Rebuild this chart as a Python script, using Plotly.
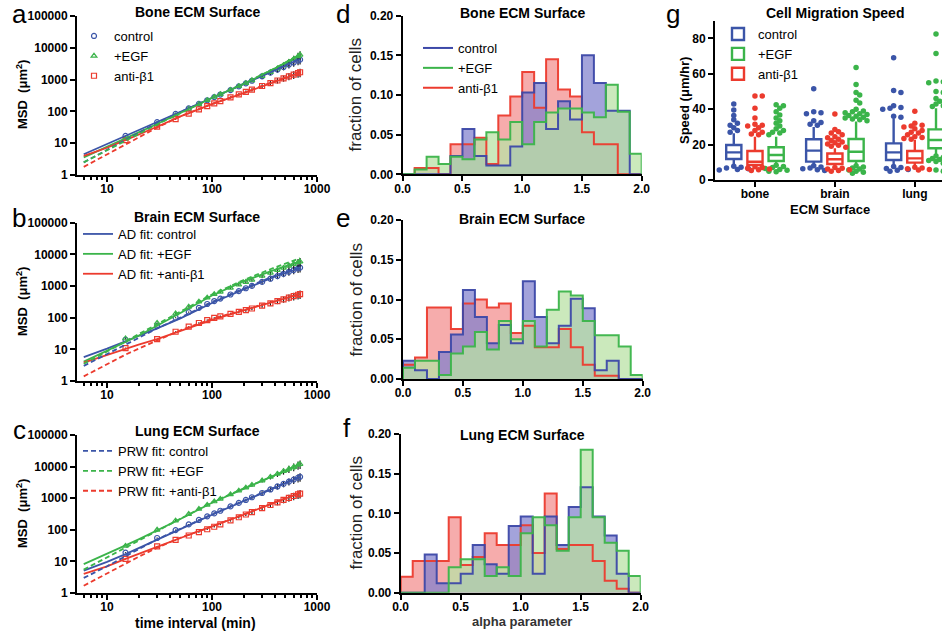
import plotly.graph_objects as go

W, H = 947, 631
F = "Liberation Sans"

BLUE = "#3B55A8"
GREEN = "#3BB44A"
RED = "#EC3B2E"

# ---------------- MSD data (panels a-c) ----------------
lag_t = [15, 30, 45, 60, 75, 90, 105, 120, 150, 180, 210, 240, 300, 360, 420, 480, 540, 600, 660, 690]
fit_t = [6, 8, 10, 15, 20, 30, 50, 100, 200, 400, 690]
msd_rel_sem = [0.03, 0.03, 0.04, 0.04, 0.05, 0.05, 0.06, 0.07, 0.08, 0.09,
               0.10, 0.12, 0.14, 0.17, 0.20, 0.22, 0.25, 0.27, 0.29, 0.30]

bone_msd_ctrl = [17, 46, 83, 125, 173, 224, 280, 339, 467, 610, 760, 920, 1270, 1650, 2060, 2490, 2960, 3450, 3950, 4230]
bone_msd_egf = [14, 40, 75, 119, 169, 224, 284, 344, 475, 618, 773, 950, 1290, 1720, 2220, 2820, 3550, 4400, 5400, 6000]
bone_msd_anti = [12.5, 33, 57, 85, 115, 147, 180, 211, 275, 342, 411, 481, 629, 780, 938, 1100, 1263, 1433, 1605, 1700]
bone_ad_ctrl = [4.5, 6.8, 9.4, 17, 25.8, 46.5, 97, 267, 727, 1990, 4370]
bone_ad_egf = [3.6, 5.6, 7.8, 14.5, 22, 40, 88, 265, 720, 2250, 6000]
bone_ad_anti = [4.0, 5.5, 7.2, 12.5, 18.5, 33, 70, 170, 375, 860, 1650]
bone_prw_ctrl = [2.5, 4.2, 6.2, 13, 21.5, 43, 95, 268, 735, 2050, 4600]
bone_prw_egf = [2.5, 4.1, 6.0, 12.5, 20.5, 39, 88, 268, 740, 2300, 6300]
bone_prw_anti = [1.8, 3.0, 4.5, 9.5, 15.5, 31, 70, 172, 385, 880, 1750]

brain_msd_ctrl = [20, 55, 100, 150, 205, 270, 335, 400, 540, 690, 850, 1010, 1350, 1700, 2060, 2430, 2800, 3200, 3600, 3800]
brain_msd_egf = [22, 68, 135, 220, 320, 430, 550, 650, 870, 1100, 1330, 1570, 2080, 2620, 3170, 3740, 4330, 4930, 5550, 5860]
brain_msd_anti = [11, 21, 36, 52, 68, 84, 98, 110, 132, 152, 172, 195, 240, 285, 335, 380, 430, 480, 530, 555]
brain_ad_ctrl = [5.7, 8, 10.5, 18, 26, 46, 95, 290, 780, 2000, 3700]
brain_ad_egf = [4.1, 6.3, 8.8, 17, 27, 55, 140, 500, 1400, 3300, 6000]
brain_ad_anti = [3.8, 5.2, 6.5, 10.5, 14, 21, 38, 85, 170, 330, 550]
brain_prw_ctrl = [3.0, 4.8, 7, 14, 23, 46, 100, 310, 830, 2150, 4000]
brain_prw_egf = [3.5, 5.7, 8.5, 18, 30, 65, 160, 540, 1550, 3900, 7500]
brain_prw_anti = [1.4, 2.3, 3.4, 6.8, 10.5, 19, 40, 92, 175, 335, 560]

lung_msd_ctrl = [19, 55, 98, 148, 205, 267, 330, 400, 550, 710, 880, 1070, 1460, 1890, 2350, 2830, 3340, 3880, 4440, 4730]
lung_msd_egf = [31, 100, 195, 315, 455, 615, 785, 950, 1320, 1720, 2160, 2620, 3620, 4720, 5890, 7130, 8440, 9810, 11240, 11980]
lung_msd_anti = [12, 30, 48, 66, 85, 104, 125, 149, 198, 250, 305, 362, 482, 610, 743, 882, 1026, 1175, 1327, 1405]
lung_ad_ctrl = [5.1, 7.3, 9.7, 17, 26, 50, 105, 300, 800, 2200, 4700]
lung_ad_egf = [8.2, 12.5, 17, 32, 50, 95, 220, 720, 2000, 5500, 12000]
lung_ad_anti = [4.0, 5.5, 7, 12, 17, 29, 55, 125, 300, 740, 1450]
lung_prw_ctrl = [3.0, 4.8, 7, 14.5, 24, 50, 108, 310, 830, 2250, 4900]
lung_prw_egf = [5.5, 9, 13, 27, 45, 92, 225, 740, 2050, 5200, 10000]
lung_prw_anti = [1.7, 2.8, 4.2, 8.8, 14, 27, 56, 128, 310, 760, 1500]

# ---------------- alpha histograms (panels d-f) ----------------
alpha_edges = [0.0, 0.1, 0.2, 0.3, 0.4, 0.5, 0.6, 0.7, 0.8, 0.9, 1.0,
               1.1, 1.2, 1.3, 1.4, 1.5, 1.6, 1.7, 1.8, 1.9, 2.0]
bone_hist_ctrl = [0, 0, 0, 0, 0.023, 0.057, 0.023, 0.011, 0.011, 0.035, 0.103, 0.115, 0.057, 0.092, 0.069, 0.150, 0.115, 0.080, 0.080, 0]
bone_hist_egf = [0, 0.006, 0.022, 0.013, 0.022, 0.019, 0.044, 0.053, 0.044, 0.066, 0.038, 0.066, 0.078, 0.083, 0.083, 0.078, 0.072, 0.113, 0.079, 0.026]
bone_hist_anti = [0, 0.008, 0.008, 0, 0.038, 0.038, 0.046, 0.013, 0.074, 0.098, 0.129, 0.084, 0.145, 0.107, 0.098, 0.053, 0.038, 0.038, 0, 0]
brain_hist_ctrl = [0.023, 0.011, 0, 0.034, 0.056, 0.112, 0.078, 0.045, 0.068, 0.045, 0.123, 0.078, 0.045, 0.067, 0.101, 0.089, 0.011, 0.023, 0, 0]
brain_hist_egf = [0.014, 0.023, 0.023, 0.005, 0.032, 0.041, 0.059, 0.037, 0.073, 0.050, 0.073, 0.041, 0.087, 0.110, 0.105, 0.073, 0.055, 0.055, 0.041, 0.005]
brain_hist_anti = [0.018, 0.027, 0.090, 0.090, 0.063, 0.095, 0.100, 0.090, 0.095, 0.058, 0.067, 0.040, 0.040, 0.063, 0.040, 0.018, 0.004, 0.004, 0, 0]
lung_hist_ctrl = [0, 0, 0.048, 0.012, 0.012, 0.024, 0.060, 0.036, 0.024, 0.084, 0.096, 0.024, 0.096, 0.060, 0.108, 0.133, 0.096, 0.072, 0.024, 0]
lung_hist_egf = [0, 0, 0, 0, 0.032, 0.042, 0.042, 0.021, 0.032, 0.021, 0.075, 0.095, 0.085, 0.053, 0.095, 0.180, 0.095, 0.063, 0.053, 0.021]
lung_hist_anti = [0.020, 0.040, 0.040, 0.040, 0.095, 0.035, 0.045, 0.075, 0.060, 0.060, 0.085, 0.050, 0.125, 0.055, 0.060, 0.060, 0.040, 0.015, 0.005, 0]

# ---------------- migration speed (panel g) ----------------
surfaces = ["bone", "brain", "lung"]
ctrl_q1 = [11.9, 10.4, 11.3]
ctrl_med = [15.6, 16.6, 15.6]
ctrl_q3 = [19.8, 23.0, 20.7]
ctrl_lo = [8.5, 8.5, 7.9]
ctrl_hi = [26.4, 30.0, 34.8]
anti_q1 = [8.5, 9.0, 9.8]
anti_med = [10.3, 11.7, 12.2]
anti_q3 = [16.4, 15.0, 16.4]
anti_lo = [6.6, 7.2, 7.5]
anti_hi = [24.5, 17.9, 22.6]
egf_q1 = [10.7, 10.7, 17.9]
egf_med = [14.1, 16.0, 22.6]
egf_q3 = [18.5, 23.2, 28.6]
egf_lo = [9.0, 8.5, 14.1]
egf_hi = [24.5, 33.0, 40.5]
ctrl_out = [
    [43, 39.5, 36.5, 34, 32, 31, 29.5, 28, 27, 7.8, 7.2, 6.8, 6.4, 6.0, 5.7],
    [51.5, 38.5, 38, 37.5, 33.5, 32.5, 31.5, 31, 8.0, 7.4, 6.8, 6.3, 5.8, 5.3],
    [69, 50.5, 49.5, 42, 41, 40.5, 40, 36, 35.5, 7.6, 7.0, 6.5, 6.0, 5.5, 5.0],
]
anti_out = [
    [47.5, 47.5, 40.5, 35, 31.5, 31, 30.5, 29.5, 28, 27, 26, 25.5, 7.5, 7.0, 6.6, 6.2, 5.8, 5.4],
    [37.3, 28.5, 27.3, 26.5, 25.5, 24.5, 23.8, 23, 22.3, 21.5, 21, 20.3, 19.6, 19, 18.5, 7.0, 6.6, 6.2, 5.8, 5.4, 5.0],
    [38.8, 32, 31, 30.5, 30, 29, 28, 27, 26.5, 25.5, 24.5, 24, 23.5, 23, 7.2, 6.8, 6.4, 6.0, 5.6],
]
egf_out = [
    [42.5, 42, 40.5, 38.5, 36.7, 35, 33.5, 32, 30.5, 29, 28, 27, 26.5, 25.5, 8.3, 7.6, 7.0, 6.5, 6.0, 5.5, 5.0, 4.6],
    [63.5, 54, 49.5, 48, 45, 43.5, 40, 39, 38.5, 38, 37.5, 37, 36.5, 36, 35.5, 35, 34.5, 34, 33.5, 8.0, 7.4, 6.8, 6.2, 5.6, 5.0, 4.4, 3.8],
    [82.5, 71.5, 56, 55.5, 55, 54.5, 50, 49.5, 46, 44.5, 43, 42, 41.5, 13.5, 12.8, 12.2, 11.6, 11, 10.4, 9.5, 5.6, 5.0],
]

# ---------------- layout helpers ----------------
def fx(p):
    return p / W

def fy(p):
    return 1 - p / H

panels = {
    "a": ((77, 317), (16, 175)),
    "b": ((77, 317), (222.7, 381)),
    "c": ((77, 317), (435, 593)),
    "d": ((402.7, 641.7), (15.7, 174.3)),
    "e": ((403, 642.7), (220, 379)),
    "f": ((400.7, 640.7), (434, 592.7)),
    "g": ((715, 942), (20.7, 180)),
}
axis_ids = {"a": "", "b": "2", "c": "3", "d": "4", "e": "5", "f": "6", "g": "7"}

fig = go.Figure()

tickfont = dict(family=F, size=12, color="black", weight="bold")
base_axis = dict(showline=True, linecolor="black", linewidth=2, ticks="outside",
                 ticklen=5, tickwidth=2, tickcolor="black", showgrid=False,
                 zeroline=False, tickfont=tickfont, fixedrange=True, automargin=False)

minor_log = [6, 7, 8, 9, 20, 30, 40, 50, 60, 70, 80, 90, 200, 300, 400, 500, 600, 700, 800, 900]

layout_axes = {}
for key, (xd, yd) in panels.items():
    aid = axis_ids[key]
    xa = dict(base_axis, domain=[fx(xd[0]), fx(xd[1])], anchor="y" + aid,
              ticklabelstandoff=-3)
    ya = dict(base_axis, domain=[fy(yd[1]), fy(yd[0])], anchor="x" + aid)
    if key in "abc":
        xa.update(type="log", range=[0.714, 3.0], tickvals=[10, 100, 1000],
                  ticktext=["10", "100", "1000"],
                  minor=dict(tickvals=minor_log, ticks="outside", ticklen=3,
                             tickwidth=1.5, tickcolor="black"))
        ya.update(type="log", range=[0, 5],
                  tickvals=[1, 10, 100, 1000, 10000, 100000],
                  ticktext=["1", "10", "100", "1000", "10000", "100000"])
    elif key in "def":
        xa.update(range=[0, 2.0], tickvals=[0, 0.5, 1.0, 1.5, 2.0],
                  ticktext=["0.0", "0.5", "1.0", "1.5", "2.0"])
        ya.update(range=[0, 0.2], tickvals=[0, 0.05, 0.10, 0.15, 0.20],
                  ticktext=["0.00", "0.05", "0.10", "0.15", "0.20"])
    else:
        xa.update(range=[-0.5, 2.34], tickvals=[0, 1, 2], ticktext=surfaces)
        ya.update(range=[0, 90], tickvals=[0, 20, 40, 60, 80])
    layout_axes["xaxis" + aid] = xa
    layout_axes["yaxis" + aid] = ya

# ---------------- MSD panels ----------------
msd_sets = [
    ("", [bone_msd_ctrl, bone_msd_egf, bone_msd_anti],
     [bone_ad_ctrl, bone_ad_egf, bone_ad_anti], [bone_prw_ctrl, bone_prw_egf, bone_prw_anti]),
    ("2", [brain_msd_ctrl, brain_msd_egf, brain_msd_anti],
     [brain_ad_ctrl, brain_ad_egf, brain_ad_anti], [brain_prw_ctrl, brain_prw_egf, brain_prw_anti]),
    ("3", [lung_msd_ctrl, lung_msd_egf, lung_msd_anti],
     [lung_ad_ctrl, lung_ad_egf, lung_ad_anti], [lung_prw_ctrl, lung_prw_egf, lung_prw_anti]),
]
cond_colors = [BLUE, GREEN, RED]
cond_symbols = ["circle-open", "triangle-up-open", "square-open"]
mk_names = ["control", "+EGF", "anti-β1"]
ad_names = ["AD fit: control", "AD fit: +EGF", "AD fit: +anti-β1"]
prw_names = ["PRW fit: control", "PRW fit: +EGF", "PRW fit: +anti-β1"]

for pi, (aid, msd, ad, prw) in enumerate(msd_sets):
    xa, ya = "x" + aid, "y" + aid
    for ci in range(3):
        err = [v * r for v, r in zip(msd[ci], msd_rel_sem)]
        fig.add_trace(go.Scatter(
            x=lag_t, y=msd[ci], mode="markers", xaxis=xa, yaxis=ya,
            name=mk_names[ci], legend="legend", showlegend=(pi == 0), legendrank=ci + 1,
            marker=dict(symbol=cond_symbols[ci], size=5, color=cond_colors[ci],
                        line=dict(width=1.2, color=cond_colors[ci])),
            error_y=dict(type="data", array=err, color="#1a1a1a", thickness=1.2, width=0)))
    for ci in range(3):
        fig.add_trace(go.Scatter(
            x=fit_t, y=ad[ci], mode="lines", xaxis=xa, yaxis=ya,
            name=ad_names[ci], legend="legend2", showlegend=(pi == 1), legendrank=ci + 1,
            line=dict(color=cond_colors[ci], width=1.8)))
    for ci in range(3):
        fig.add_trace(go.Scatter(
            x=fit_t, y=prw[ci], mode="lines", xaxis=xa, yaxis=ya,
            name=prw_names[ci], legend="legend3", showlegend=(pi == 2), legendrank=ci + 1,
            line=dict(color=cond_colors[ci], width=1.8, dash="5px,3px")))

# ---------------- histograms ----------------
hist_sets = [
    ("4", [bone_hist_anti, bone_hist_ctrl, bone_hist_egf]),
    ("5", [brain_hist_anti, brain_hist_ctrl, brain_hist_egf]),
    ("6", [lung_hist_anti, lung_hist_ctrl, lung_hist_egf]),
]
HBLUE = "#3C48A8"
h_line = ["rgba(236,59,46,0.95)", "rgba(60,72,168,0.95)", "rgba(59,180,74,0.95)"]
h_fill = ["rgba(243,144,144,0.75)", "rgba(128,128,205,0.72)", "rgba(185,225,165,0.75)"]
for aid, hs in hist_sets:
    for k, vals in enumerate(hs):
        fig.add_trace(go.Scatter(
            x=[alpha_edges[0]] + alpha_edges, y=[0] + vals + [0],
            mode="lines", line=dict(shape="hv", width=0, color=h_fill[k]),
            fill="tozeroy", fillcolor=h_fill[k], xaxis="x" + aid, yaxis="y" + aid,
            showlegend=False, hoverinfo="skip"))
    for k, vals in enumerate(hs):
        fig.add_trace(go.Scatter(
            x=[alpha_edges[0]] + alpha_edges, y=[0] + vals + [0],
            mode="lines", line=dict(shape="hv", color=h_line[k], width=2),
            xaxis="x" + aid, yaxis="y" + aid, showlegend=False, hoverinfo="skip"))

for name, col, rank in [("control", HBLUE, 1), ("+EGF", GREEN, 2), ("anti-β1", RED, 3)]:
    fig.add_trace(go.Scatter(x=[None], y=[None], mode="lines", name=name,
                             line=dict(color=col, width=2), xaxis="x4", yaxis="y4",
                             legend="legend4", legendrank=rank))

# ---------------- box plot ----------------
offsets = {"ctrl": -0.265, "anti": 0.0, "egf": 0.265}
box_sets = [
    ("control", BLUE, "ctrl", ctrl_q1, ctrl_med, ctrl_q3, ctrl_lo, ctrl_hi, ctrl_out, 1),
    ("+EGF", GREEN, "egf", egf_q1, egf_med, egf_q3, egf_lo, egf_hi, egf_out, 2),
    ("anti-β1", RED, "anti", anti_q1, anti_med, anti_q3, anti_lo, anti_hi, anti_out, 3),
]


def swarm_offsets(vals, d_px=5.2, xs_px=80.0, ys_px=1.77):
    placed = []
    res = []
    for v in vals:
        chosen = 0.0
        for k in [0, 1, -1, 2, -2, 3, -3, 4, -4]:
            dx = k * d_px * 0.7
            if all((dx - px) ** 2 + ((v - pv) * ys_px) ** 2 >= (d_px * 0.8) ** 2 for px, pv in placed):
                chosen = dx
                break
        placed.append((chosen, v))
        res.append(chosen / xs_px)
    return res


for name, col, key, q1, med, q3, lo, hi, outs, rank in box_sets:
    pos = [i + offsets[key] for i in range(3)]
    fig.add_trace(go.Box(
        x=pos, q1=q1, median=med, q3=q3, lowerfence=lo, upperfence=hi,
        width=0.19, whiskerwidth=0, line=dict(color=col, width=2.4),
        fillcolor="rgba(255,255,255,0)", boxpoints=False, name=name,
        xaxis="x7", yaxis="y7", legend="legend5", legendrank=rank, hoverinfo="skip"))
    px_all, py_all = [], []
    for i in range(3):
        offs = swarm_offsets(outs[i])
        px_all += [pos[i] + o for o in offs]
        py_all += outs[i]
    fig.add_trace(go.Scatter(
        x=px_all, y=py_all, mode="markers", marker=dict(size=5.5, color=col),
        xaxis="x7", yaxis="y7", showlegend=False, hoverinfo="skip"))

# ---------------- annotations ----------------
ann = []

def add_text(text, xp, yp, size, bold=False, angle=0, color="black", xanchor="center"):
    ann.append(dict(text=text, x=fx(xp), y=fy(yp), xref="paper", yref="paper",
                    showarrow=False, xanchor=xanchor, yanchor="middle", textangle=angle,
                    font=dict(family=F, size=size, color=color,
                              weight="bold" if bold else "normal")))

add_text("Bone ECM Surface", 197, 12, 14, True)
add_text("Brain ECM Surface", 197, 217, 14, True)
add_text("Lung ECM Surface", 197, 431, 14, True)
add_text("Bone ECM Surface", 522, 13.5, 14, True)
add_text("Brain ECM Surface", 522, 219, 14, True)
add_text("Lung ECM Surface", 522, 434.5, 14, True)
add_text("Cell Migration Speed", 835, 13, 14, True)

for yc in [95, 302, 514]:
    add_text("MSD  (μm<sup>2</sup>)", 22, yc, 13, True, -90)
for yc in [95, 300, 513]:
    add_text("fraction of cells", 355.5, yc, 17, False, -90, "#222222")
add_text("Speed (μm/hr)", 684, 101, 13, True, -90)
add_text("time interval (min)", 195, 622.5, 14, True)
add_text("alpha parameter", 522, 621.5, 13, True, 0, "#333333")
add_text("ECM Surface", 830, 209, 13, True)

for letter, xp, yp in [("a", 19, 14), ("b", 19, 218), ("c", 19, 430),
                       ("d", 343, 14), ("e", 343, 218), ("f", 347, 428), ("g", 673, 14)]:
    add_text(letter, xp, yp, 26, False)

legfont = dict(family=F, size=13, color="black")
common_leg = dict(xanchor="left", yanchor="top", bgcolor="rgba(0,0,0,0)",
                  borderwidth=0, font=legfont, tracegroupgap=0)

fig.update_layout(
    width=W, height=H, margin=dict(l=0, r=0, t=0, b=0, autoexpand=False),
    paper_bgcolor="white", plot_bgcolor="white",
    boxmode="overlay", annotations=ann,
    legend=dict(common_leg, x=fx(74), y=fy(21)),
    legend2=dict(common_leg, x=fx(78), y=fy(219)),
    legend3=dict(common_leg, x=fx(78), y=fy(436)),
    legend4=dict(common_leg, x=fx(418), y=fy(33)),
    legend5=dict(common_leg, x=fx(718), y=fy(19)),
    **layout_axes,
)

fig.write_html("out.html", config={"displayModeBar": False},
               post_script="document.body.style.margin='0px';")
